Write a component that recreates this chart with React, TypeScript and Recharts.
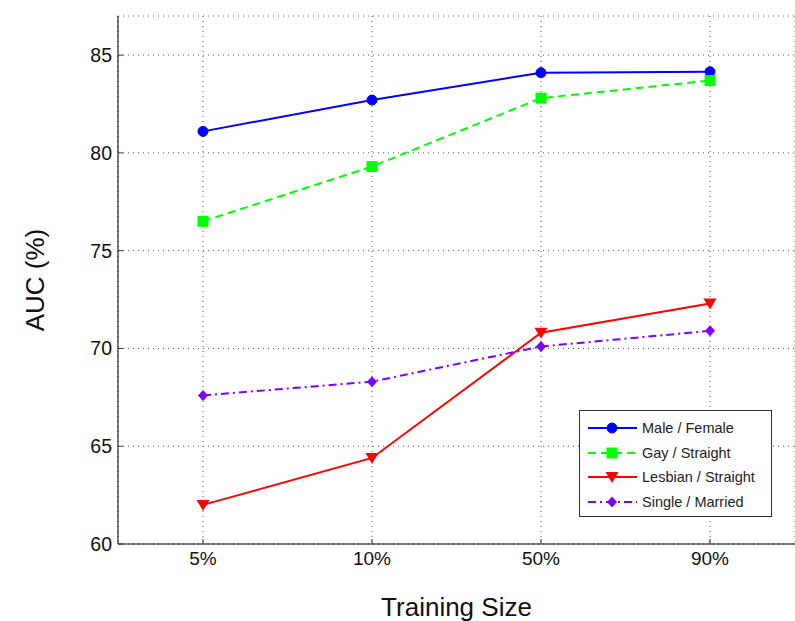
import React from "react";
import { LineChart, Line, XAxis, YAxis, CartesianGrid } from "recharts";

// training sizes on the x axis
const sizes = ["5%", "10%", "50%", "90%"];
const yTicks = [60, 65, 70, 75, 80, 85];

// AUC (%) per task
const maleFemale = [81.1, 82.7, 84.1, 84.15];
const gayStraight = [76.5, 79.3, 82.8, 83.7];
const lesbianStraight = [62.0, 64.4, 70.8, 72.3];
const singleMarried = [67.6, 68.3, 70.1, 70.9];

const series = [
  { key: "mf", name: "Male / Female", color: "#0000ff", dash: undefined, shape: "circle", values: maleFemale },
  { key: "gs", name: "Gay / Straight", color: "#00ff00", dash: "8 5", shape: "square", values: gayStraight },
  { key: "ls", name: "Lesbian / Straight", color: "#ff0000", dash: undefined, shape: "triangle", values: lesbianStraight },
  { key: "sm", name: "Single / Married", color: "#7f00ff", dash: "8 4 2 4", shape: "diamond", values: singleMarried },
];

const data = sizes.map((s, i) => {
  const row: Record<string, string | number> = { size: s };
  series.forEach(se => { row[se.key] = se.values[i]; });
  return row;
});

const FONT = "'Liberation Sans', Arial, Helvetica, sans-serif";

function Marker({ shape, cx, cy, color }: { shape: string; cx: number; cy: number; color: string }) {
  if (shape === "circle") return <circle cx={cx} cy={cy} r={5} fill={color} stroke={color} />;
  if (shape === "square") return <rect x={cx - 5.5} y={cy - 5.5} width={11} height={11} fill={color} />;
  if (shape === "triangle")
    return <polygon points={`${cx - 6.5},${cy - 5} ${cx + 6.5},${cy - 5} ${cx},${cy + 6}`} fill={color} />;
  return <polygon points={`${cx},${cy - 5.5} ${cx + 5},${cy} ${cx},${cy + 5.5} ${cx - 5},${cy}`} fill={color} />;
}

function LegendBox() {
  return (
    <div style={{ position: "absolute", left: 579, top: 410, width: 193, height: 107, border: "1px solid #333",
      background: "#fff", boxSizing: "border-box", fontFamily: FONT, fontSize: 14.5, color: "#222", paddingTop: 5 }}>
      {series.map(se => (
        <div key={se.key} style={{ display: "flex", alignItems: "center", height: 24.5 }}>
          <svg width={50} height={16} style={{ marginLeft: 8 }}>
            <line x1={0} y1={8} x2={49} y2={8} stroke={se.color} strokeWidth={2} strokeDasharray={se.dash} />
            <Marker shape={se.shape} cx={24} cy={8} color={se.color} />
          </svg>
          <span style={{ marginLeft: 4 }}>{se.name}</span>
        </div>
      ))}
    </div>
  );
}

export default function App() {
  return (
    <div style={{ position: "absolute", left: 0, top: 0, width: 795, height: 621, background: "#fff" }}>
      <LineChart width={795} height={621} data={data} margin={{ top: 16, right: 0, bottom: 47, left: 58 }}>
        <CartesianGrid stroke="#555" strokeDasharray="1 4" />
        <XAxis dataKey="size" padding={{ left: 85, right: 85 }} tickSize={-5} tickMargin={13} stroke="#000" height={30}
          tickLine={{ stroke: "#333" }} tick={{ fill: "#111", fontSize: 19, fontFamily: FONT }}
          label={{ value: "Training Size", position: "bottom", offset: 24, fill: "#111", fontSize: 26, fontFamily: FONT }} />
        <XAxis xAxisId="top" dataKey="size" orientation="top" padding={{ left: 85, right: 85 }} tick={false}
          tickSize={-5} tickLine={{ stroke: "#333" }} stroke="#000" height={0} />
        <YAxis domain={[60, 87]} ticks={yTicks} allowDataOverflow tickSize={-5} tickMargin={11} stroke="#000" width={60}
          tickLine={{ stroke: "#333" }} tick={{ fill: "#111", fontSize: 19.5, fontFamily: FONT }}
          label={{ value: "AUC (%)", angle: -90, position: "insideLeft", offset: -23, fill: "#111", fontSize: 26,
            fontFamily: FONT, style: { textAnchor: "middle" } }} />
        {series.map(se => (
          <Line key={se.key} dataKey={se.key} name={se.name} type="linear" stroke={se.color} strokeWidth={2}
            strokeDasharray={se.dash} isAnimationActive={false}
            dot={(p: any) => <Marker key={`${se.key}-${p.index}`} shape={se.shape} cx={p.cx} cy={p.cy} color={se.color} />} />
        ))}
      </LineChart>
      <LegendBox />
    </div>
  );
}
